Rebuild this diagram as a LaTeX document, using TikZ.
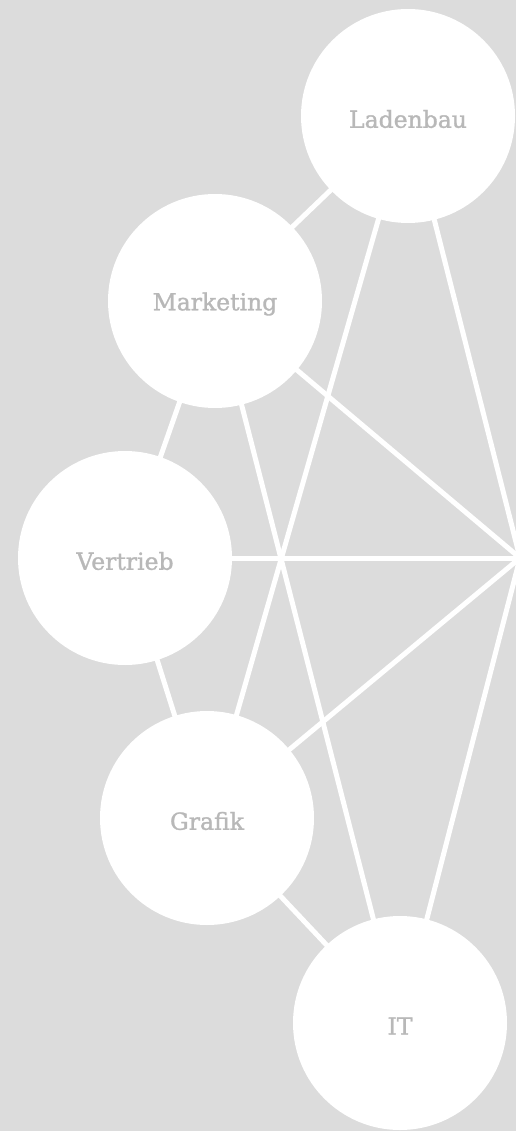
\documentclass[tikz,border=0pt]{standalone}
\usepackage{fontspec}
\setmainfont{DejaVu Serif}
\newfontfamily\lblfont[FakeBold=1.2]{DejaVu Serif}
\usetikzlibrary{backgrounds}
\definecolor{bggray}{HTML}{DCDCDC}
\definecolor{txtgray}{HTML}{B8B8B8}
\tikzset{
  bubble/.style={circle, fill=white, minimum size=214pt, inner sep=0pt},
  lbl/.style={text=txtgray, font=\lblfont\fontsize{23.5}{26}\selectfont, yshift=-3pt},
  link/.style={draw=white, line width=5pt}
}
\begin{document}
\begin{tikzpicture}[x=1pt,y=-1pt]
\useasboundingbox (0,0) rectangle (516,1131);
\node[bubble] (lad) at (408,116) {};
\node[bubble] (mkt) at (215,301) {};
\node[bubble] (ver) at (125,558) {};
\node[bubble] (gra) at (207,818) {};
\node[bubble] (it)  at (400,1023) {};
\node[lbl] (tlad) at (lad.center) {Ladenbau};
\node[lbl] (tmkt) at (mkt.center) {Marketing};
\node[lbl] (tver) at (ver.center) {Vertrieb};
\node[lbl] (tgra) at (gra.center) {Grafik};
\node[lbl] (tit)  at (it.center) {IT};
\coordinate (hub) at (520,558);
\begin{scope}[on background layer]
  \fill[bggray] (0,0) rectangle (516,1131);
  \clip (0,0) rectangle (516,1131);
  \draw[link] (lad.center) -- (mkt.center);
  \draw[link] (mkt.center) -- (ver.center);
  \draw[link] (ver.center) -- (gra.center);
  \draw[link] (gra.center) -- (it.center);
  \draw[link] (lad.center) -- (gra.center);
  \draw[link] (mkt.center) -- (it.center);
  \draw[link] (lad.center) -- (hub);
  \draw[link] (mkt.center) -- (hub);
  \draw[link] (ver.center) -- (hub);
  \draw[link] (gra.center) -- (hub);
  \draw[link] (it.center) -- (hub);
\end{scope}
\end{tikzpicture}
\end{document}
